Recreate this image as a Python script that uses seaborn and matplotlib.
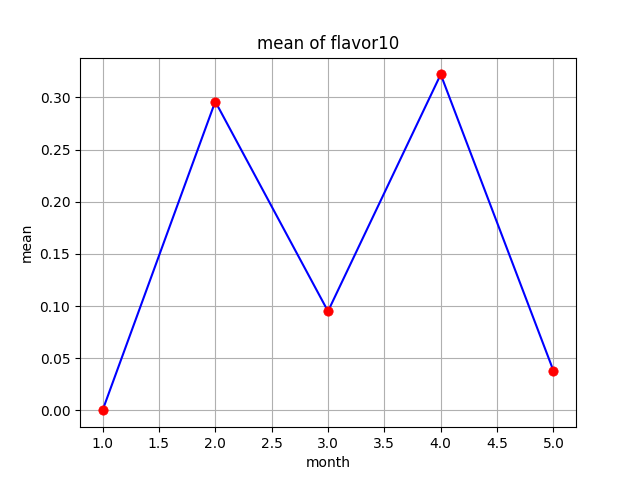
import matplotlib
matplotlib.use("Agg")
import matplotlib.pyplot as plt
import seaborn as sns
import pandas as pd

months = [1.0, 2.0, 3.0, 4.0, 5.0]
mean_values = [0.0, 0.296, 0.095, 0.322, 0.038]

df = pd.DataFrame({"month": months, "mean": mean_values})

fig, ax = plt.subplots(figsize=(6.4, 4.8), dpi=100)
sns.lineplot(data=df, x="month", y="mean", color="blue", ax=ax)
sns.scatterplot(data=df, x="month", y="mean", color="red", s=45, edgecolor="red", zorder=3, ax=ax)
ax.set_title("mean of flavor10")
ax.set_xlabel("month")
ax.set_ylabel("mean")
ax.grid(True)
fig.savefig("out.png", dpi=100)
